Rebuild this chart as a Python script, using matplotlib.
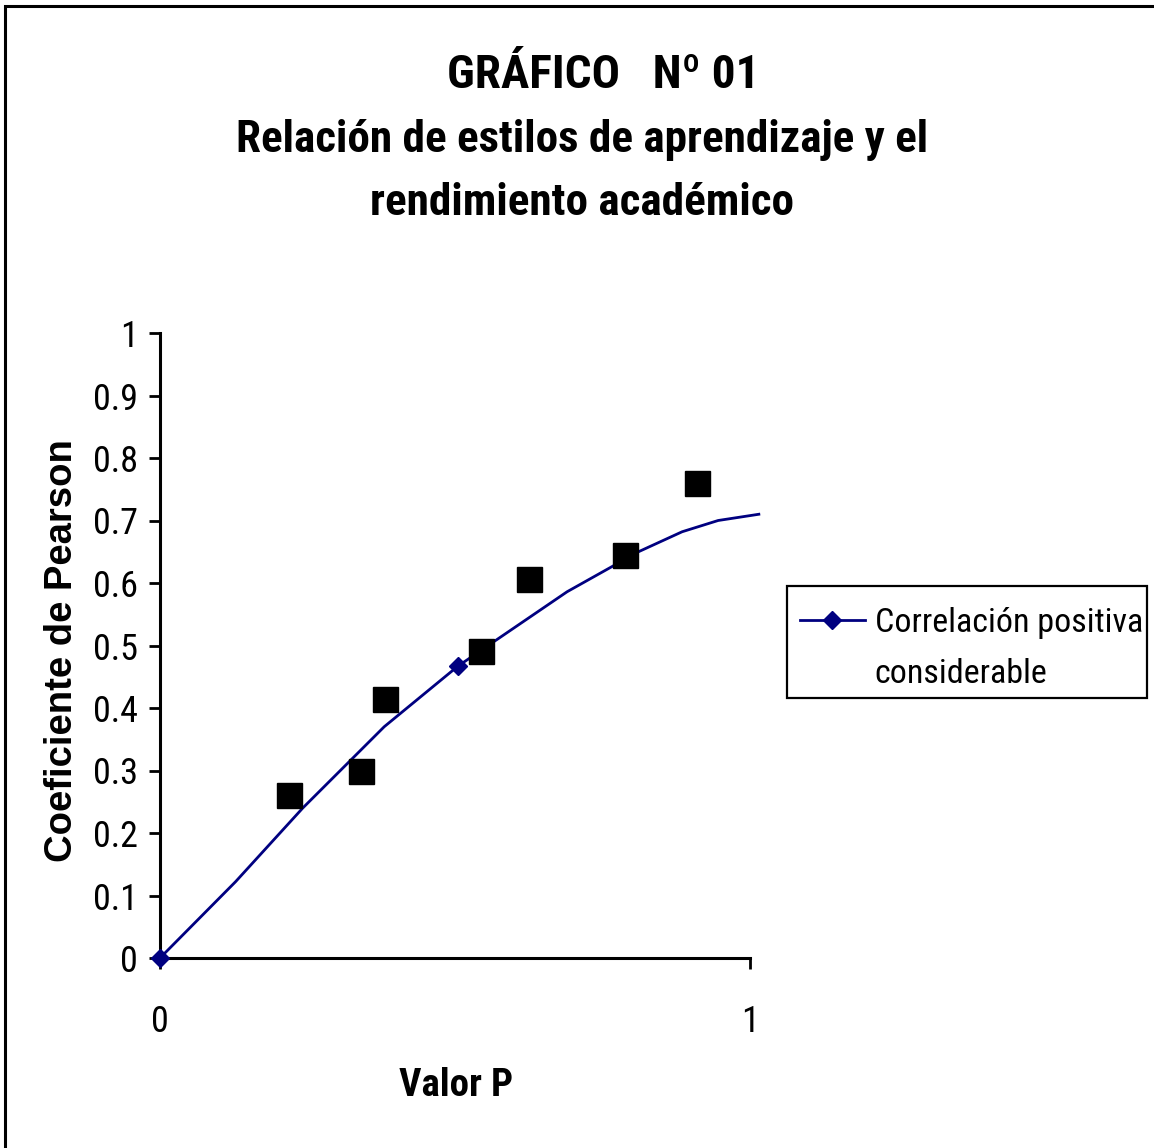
import matplotlib
matplotlib.use("Agg")
import matplotlib.pyplot as plt
from matplotlib.lines import Line2D
from matplotlib.patches import Rectangle

# datos
linea_x = [0.0, 0.128, 0.242, 0.380, 0.505, 0.690, 0.811, 0.885, 0.946, 1.015]
linea_y = [0.0, 0.122, 0.240, 0.370, 0.467, 0.586, 0.650, 0.682, 0.700, 0.710]
marcas_linea = [0, 4]

puntos_x = [0.219, 0.341, 0.381, 0.544, 0.625, 0.788, 0.910]
puntos_y = [0.261, 0.299, 0.414, 0.491, 0.606, 0.645, 0.760]

y_ticks = [0, 0.1, 0.2, 0.3, 0.4, 0.5, 0.6, 0.7, 0.8, 0.9, 1]
y_labels = ["0", "0.1", "0.2", "0.3", "0.4", "0.5", "0.6", "0.7", "0.8", "0.9", "1"]
x_ticks = [0, 1]
x_labels = ["0", "1"]

NARROW = ["Roboto Condensed", "Archivo Narrow", "DejaVu Sans"]
ANCHA = ["Liberation Sans", "DejaVu Sans"]

fig = plt.figure(figsize=(11.54, 11.48), dpi=100)
W, H = 1154, 1148
ax = fig.add_axes([160 / W, 1 - 958 / H, 590 / W, 625 / H])

linea, = ax.plot(linea_x, linea_y, color="#000080", lw=2.0, marker="D",
                 markersize=9, markevery=marcas_linea, clip_on=False, zorder=3)
ax.plot(puntos_x, puntos_y, ls="none", marker="s", markersize=18,
        color="black", zorder=4)

ax.set_xlim(0, 1)
ax.set_ylim(0, 1)
ax.set_xticks(x_ticks)
ax.set_xticklabels(x_labels, family=NARROW, fontsize=26)
ax.set_yticks(y_ticks)
ax.set_yticklabels(y_labels, family=NARROW, fontsize=26)
ax.tick_params(axis="y", direction="out", length=8, width=2, pad=8)
ax.tick_params(axis="x", direction="out", length=8, width=2, pad=25)
for lado in ["top", "right"]:
    ax.spines[lado].set_visible(False)
for lado in ["left", "bottom"]:
    ax.spines[lado].set_linewidth(2.2)

fig.text(456 / W, 1 - 1085 / H, "Valor P", family=NARROW, weight="bold",
         fontsize=28, ha="center", va="center")
fig.text(62 / W, 1 - 651 / H, "Coeficiente de Pearson", family=ANCHA,
         weight="bold", fontsize=27.5, rotation=90, ha="center", va="center")

fig.text(603 / W, 1 - 75 / H, "GRÁFICO   Nº 01", family=NARROW, weight="bold",
         fontsize=34, ha="center", va="center")
fig.text(582 / W, 1 - 140 / H, "Relación de estilos de aprendizaje y el",
         family=NARROW, weight="bold", fontsize=32.5, ha="center", va="center")
fig.text(582 / W, 1 - 203 / H, "rendimiento académico", family=NARROW,
         weight="bold", fontsize=32.5, ha="center", va="center")

# leyenda: segunda linea sin simbolo, caja dibujada aparte
vacio = Line2D([], [], linestyle="none")
leg = fig.legend([linea, vacio], ["Correlación positiva", "considerable"],
                 loc="upper left", bbox_to_anchor=(800 / W, 1 - 607 / H),
                 frameon=False, prop={"family": NARROW, "size": 24.5},
                 handlelength=1.9, borderpad=0, handletextpad=0.3,
                 labelspacing=0.55, borderaxespad=0)
fig.patches.append(Rectangle((787 / W, 1 - 698 / H), 360 / W, 112 / H,
                             transform=fig.transFigure, fill=False,
                             edgecolor="black", lw=1.6))

# marco exterior del grafico
fig.patches.append(Rectangle((5 / W, -0.05), 1.2, 1.05 - 6 / H,
                             transform=fig.transFigure, fill=False,
                             edgecolor="black", lw=2.2))

fig.savefig("out.png", dpi=100, facecolor="white")
